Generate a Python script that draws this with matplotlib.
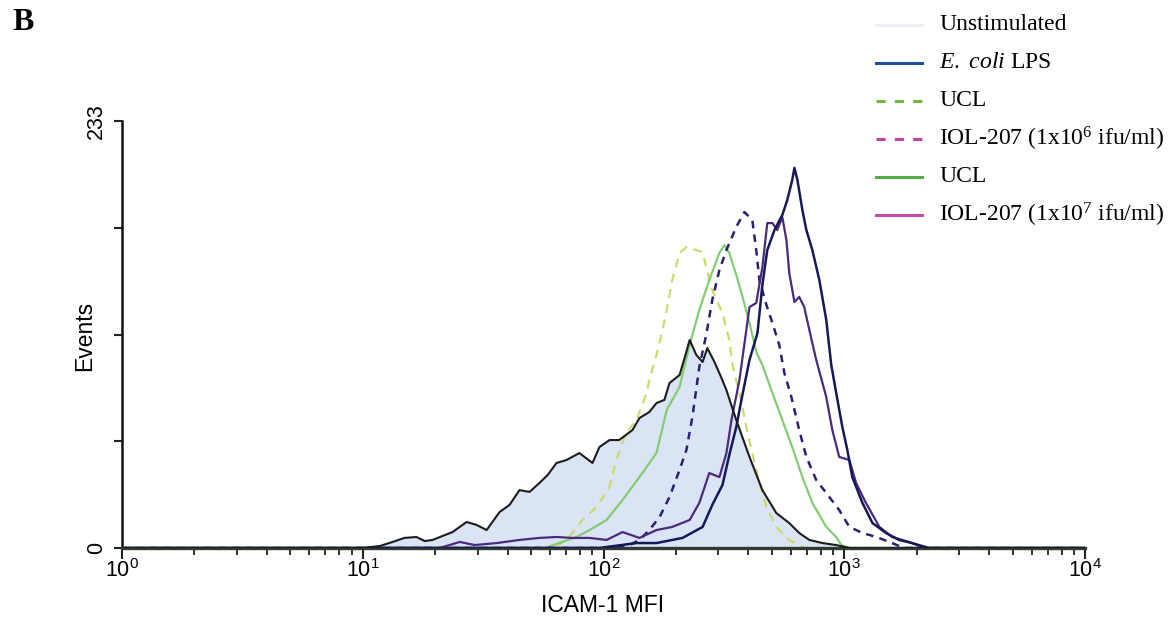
import numpy as np
import matplotlib
matplotlib.use("Agg")
import matplotlib.pyplot as plt
from matplotlib.lines import Line2D
from matplotlib.ticker import FixedLocator, LogLocator, NullFormatter

plt.rcParams["font.family"] = ["Liberation Sans", "DejaVu Sans"]
plt.rcParams["mathtext.fontset"] = "custom"
plt.rcParams["mathtext.rm"] = "Liberation Serif"
plt.rcParams["mathtext.it"] = "Liberation Serif:italic"
plt.rcParams["mathtext.sf"] = "Liberation Sans"

# ---- histogram traces (ICAM-1 MFI, event counts) ----
unstim_mfi = [1, 10, 11.8, 13.3, 14.9, 16.7, 18.1, 19.5, 23.6, 27.0, 29.7, 32.7, 37.0, 40.7,
              44.8, 49.3, 54.2, 58.6, 63.8, 70.2, 79.4, 90.0, 96.2, 106, 116, 124, 132, 141,
              155, 166, 179, 188, 207, 219, 228, 243, 258, 270, 289, 309, 324, 356, 404, 457,
              522, 591, 650, 716, 811, 926, 1050, 10000]
unstim_cnt = [0, 0, 1.1, 3.3, 5.5, 6.0, 3.8, 4.4, 8.7, 14.2, 12.6, 9.8, 19.6, 23.5,
              31.6, 30.6, 35.5, 39.8, 46.4, 48.0, 51.8, 46.4, 55.1, 58.9, 58.9, 61.7, 64.4, 70.9,
              74.2, 79.1, 80.8, 90.0, 94.4, 105.3, 113.5, 105.3, 101.5, 109.1, 101.5, 92.8, 86.2,
              69.8, 49.7, 31.6, 19.1, 13.6, 8.2, 4.4, 2.7, 1.6, 0, 0]

lps_mfi = [1, 96, 137, 166, 213, 258, 283, 312, 333, 356, 374, 404, 436, 457, 479, 513, 553,
           580, 608, 621, 639, 670, 696, 737, 788, 842, 883, 926, 982, 1030, 1080, 1190, 1310,
           1490, 1690, 1910, 2250, 10000]
lps_cnt = [0, 0, 2.7, 2.7, 5.5, 11.5, 23.5, 34.4, 50.7, 66.0, 80.8, 102.6, 117.3, 143.5, 162.6,
           173.5, 181.7, 189.9, 200.8, 207.4, 200.8, 184.4, 173.5, 162.6, 146.2, 124.4, 99.9,
           84.6, 66.0, 53.5, 38.7, 24.6, 13.6, 8.2, 4.4, 2.7, 0, 0]

ucl_lo_mfi = [1, 62.6, 70.2, 74.3, 81.8, 93.5, 106, 113, 124, 137, 151, 155, 166, 176, 183, 193,
              207, 221, 243, 258, 267, 283, 312, 333, 343, 367, 392, 415, 444, 475, 522, 591,
              682, 10000]
ucl_lo_cnt = [0, 0, 4.4, 8.2, 15.3, 22.4, 33.3, 48.0, 62.8, 69.8, 84.6, 91.7, 105.3, 119.0,
              129.9, 146.2, 161.0, 164.2, 162.6, 161.5, 153.3, 140.8, 128.2, 113.5, 99.9, 84.6,
              66.0, 51.8, 35.5, 22.4, 11.5, 4.4, 0, 0]

iol_lo_mfi = [1, 96, 128, 141, 155, 171, 188, 207, 221, 234, 250, 267, 283, 303, 324, 356, 385,
              415, 431, 444, 475, 503, 537, 564, 603, 650, 696, 765, 842, 953, 1050, 1190, 1360,
              1540, 1770, 10000]
iol_lo_cnt = [0, 0, 1.6, 4.4, 9.8, 16.9, 27.8, 42.6, 53.5, 71.5, 98.8, 116.2, 135.3, 151.7,
              162.6, 175.2, 183.3, 179.0, 162.6, 146.2, 132.6, 122.8, 110.8, 95.5, 82.4, 64.4,
              49.7, 37.1, 30.0, 20.7, 11.5, 8.2, 6.0, 3.3, 0, 0]

ucl_hi_mfi = [1, 56.9, 77.3, 87.5, 103, 120, 141, 166, 183, 207, 228, 250, 275, 303, 318, 333,
              356, 378, 404, 431, 457, 503, 553, 608, 670, 737, 842, 926, 972, 1050, 10000]
ucl_hi_cnt = [0, 0, 6.0, 9.8, 15.3, 26.2, 38.7, 51.8, 75.3, 87.9, 110.8, 129.9, 146.2, 161.0,
              165.3, 161.0, 149.0, 137.0, 122.8, 107.0, 99.9, 84.6, 69.8, 55.1, 38.7, 24.6,
              11.5, 6.0, 1.6, 0, 0]

iol_hi_mfi = [1, 20.9, 25.3, 29.2, 36.0, 44.8, 54.2, 63.8, 74.3, 87.5, 103, 120, 141, 166, 193,
              228, 250, 275, 303, 324, 340, 367, 404, 431, 457, 479, 503, 527, 553, 575, 591,
              621, 650, 682, 716, 765, 842, 892, 953, 1050, 1120, 1230, 1400, 1580, 1860, 2150,
              10000]
iol_hi_cnt = [0, 0, 3.3, 1.6, 2.7, 4.4, 5.5, 6.0, 5.5, 5.5, 4.4, 8.7, 5.5, 9.8, 11.5, 15.3,
              24.6, 40.9, 38.7, 51.8, 69.8, 91.7, 131.5, 133.7, 153.3, 177.3, 177.3, 173.5,
              180.6, 168.1, 150.1, 134.2, 137.0, 131.5, 119.0, 102.6, 82.4, 64.4, 49.7, 48.0,
              35.5, 24.6, 11.5, 6.0, 3.3, 0, 0]

legend_labels = ["Unstimulated",
                 r"$\mathit{E.}$ $\mathit{coli}$ LPS",
                 "UCL",
                 r"IOL-207 (1x10$^{6}$ ifu/ml)",
                 "UCL",
                 r"IOL-207 (1x10$^{7}$ ifu/ml)"]
x_tick_values = [1, 10, 100, 1000, 10000]
x_tick_labels = [r"$\mathsf{10^{0}}$", r"$\mathsf{10^{1}}$", r"$\mathsf{10^{2}}$",
                 r"$\mathsf{10^{3}}$", r"$\mathsf{10^{4}}$"]
y_max = 233
y_tick_values = [0, 58.25, 116.5, 174.75, 233]
y_tick_labels = ["0", "", "", "", "233"]

W, H = 1170, 620
fig = plt.figure(figsize=(W / 100, H / 100), dpi=100)
ax = fig.add_axes([122 / W, 1 - 548 / H, 963 / W, 427 / H])

# filled unstimulated histogram
ax.fill_between(unstim_mfi, unstim_cnt, 0, color="#dae4f4", lw=0, zorder=1)

ax.plot(ucl_lo_mfi, ucl_lo_cnt, color="#cbdc6e", lw=1.6, ls=(0, (4, 3)), zorder=2)
ax.plot(ucl_hi_mfi, ucl_hi_cnt, color="#84cc74", lw=1.6, zorder=2)
ax.plot(iol_lo_mfi, iol_lo_cnt, color="#28236f", lw=1.8, ls=(0, (3, 2.5)), zorder=3)
ax.plot(iol_hi_mfi, iol_hi_cnt, color="#4a2a7c", lw=1.6, zorder=3)
ax.plot(lps_mfi, lps_cnt, color="#171858", lw=1.8, zorder=3)
ax.plot(unstim_mfi, unstim_cnt, color="#1c1c1c", lw=1.5, zorder=4)

ax.set_xscale("log")
ax.set_xlim(1, 10000)
ax.set_ylim(0, y_max)

ax.xaxis.set_major_locator(FixedLocator(x_tick_values))
ax.set_xticklabels(x_tick_labels, fontsize=15.5)
ax.xaxis.set_minor_locator(LogLocator(base=10, subs=np.arange(2, 10)))
ax.xaxis.set_minor_formatter(NullFormatter())
ax.set_yticks(y_tick_values)
ax.set_yticklabels(y_tick_labels, fontsize=15.5, rotation=90, va="center")

ax.tick_params(axis="x", which="major", direction="out", length=8, width=1.5, pad=0,
               color="#222222")
ax.tick_params(axis="x", which="minor", direction="out", length=5, width=1.3,
               color="#222222")
ax.tick_params(axis="y", which="major", direction="out", length=6, width=1.5, pad=5,
               color="#222222")

for side in ("top", "right"):
    ax.spines[side].set_visible(False)
ax.spines["left"].set_linewidth(1.8)
ax.spines["left"].set_color("#111111")
ax.spines["bottom"].set_linewidth(2.4)
ax.spines["bottom"].set_color("#2e3b30")
ax.patch.set_alpha(0)

fig.text(603 / W, 1 - 605 / H, "ICAM-1 MFI", ha="center", va="center", fontsize=16.5)
fig.text(85 / W, 1 - 336 / H, "Events", ha="center", va="center", rotation=90,
         fontsize=16.5)
fig.text(12 / W, 1 - 23 / H, "B", ha="left", va="center", fontsize=23, fontweight="bold",
         family="Liberation Serif")

# key, drawn in figure coordinates
legend_styles = [("#eef0f6", "-"), ("#1f4e9e", "-"), ("#76b446", (0, (3, 3))),
                 ("#c2449c", (0, (3, 3))), ("#55ad48", "-"), ("#c04ea2", "-")]
for i, (label, (col, ls)) in enumerate(zip(legend_labels, legend_styles)):
    yc = 1 - (25 + 38 * i) / H
    fig.add_artist(Line2D([876 / W, 922 / W], [yc, yc], color=col, lw=2.2, ls=ls,
                          transform=fig.transFigure))
    fig.text(939 / W, yc, label, ha="left", va="center", fontsize=17,
             family="Liberation Serif")

fig.savefig("out.png", dpi=100, facecolor="white")
